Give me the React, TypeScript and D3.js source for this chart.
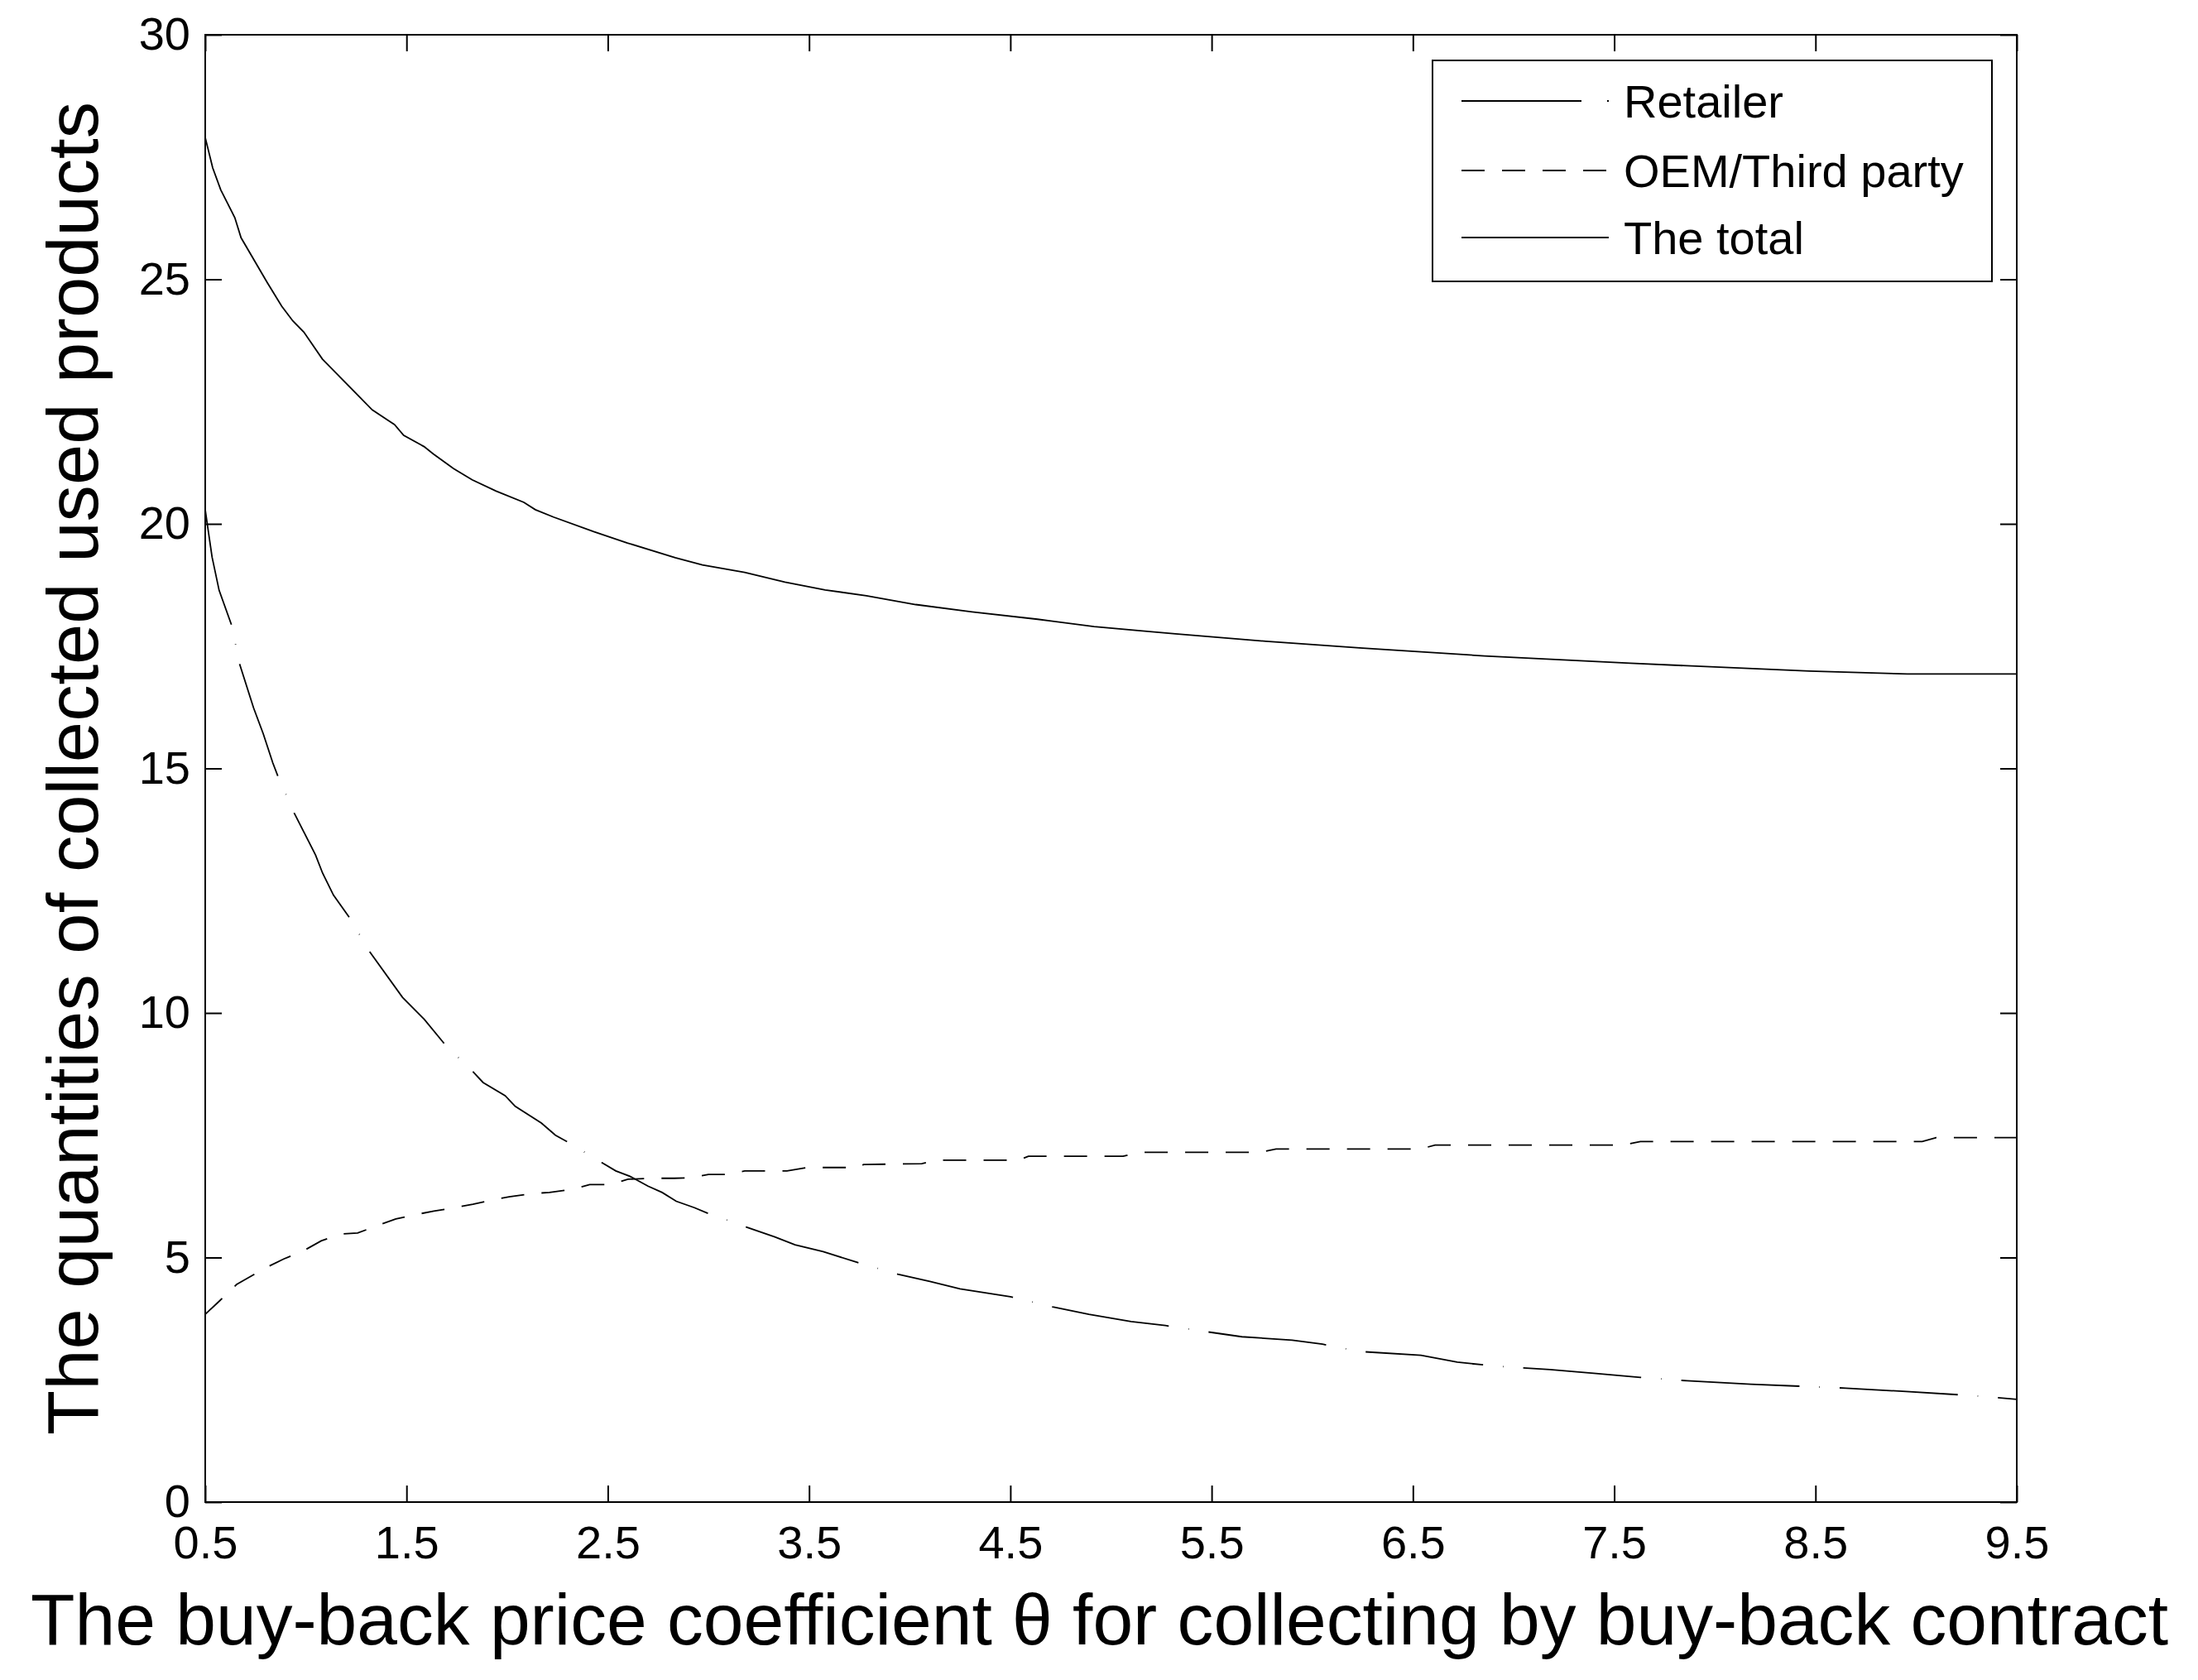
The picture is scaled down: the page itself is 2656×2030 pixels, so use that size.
import React, { useRef, useEffect } from "react";
import * as d3 from "d3";

const xTicks = [0.5, 1.5, 2.5, 3.5, 4.5, 5.5, 6.5, 7.5, 8.5, 9.5];
const yTicks = [0, 5, 10, 15, 20, 25, 30];

const totalTheta = [0.5, 0.537, 0.577, 0.647, 0.678, 0.807, 0.88, 0.935, 0.99, 1.082, 1.33, 1.44, 1.486, 1.587, 1.633, 1.734, 1.826, 1.945, 2.083, 2.14, 2.23, 2.43, 2.597, 2.835, 2.97, 3.18, 3.38, 3.58, 3.785, 4.03, 4.31, 4.635, 4.916, 5.32, 5.77, 6.25, 6.855, 7.58, 8.47, 8.957, 9.5];
const totalQty = [27.9, 27.28, 26.83, 26.26, 25.85, 24.94, 24.45, 24.15, 23.92, 23.37, 22.33, 22.03, 21.81, 21.58, 21.43, 21.13, 20.9, 20.67, 20.44, 20.29, 20.14, 19.84, 19.61, 19.31, 19.16, 19.01, 18.81, 18.65, 18.53, 18.35, 18.2, 18.05, 17.9, 17.75, 17.6, 17.46, 17.3, 17.15, 16.99, 16.93, 16.93];

const retailerTheta = [0.5, 0.516, 0.534, 0.569, 0.63, 0.671, 0.74, 0.788, 0.836, 0.861, 0.943, 1.048, 1.083, 1.137, 1.215, 1.317, 1.48, 1.588, 1.69, 1.83, 1.88, 1.99, 2.04, 2.17, 2.24, 2.31, 2.47, 2.54, 2.61, 2.7, 2.77, 2.84, 2.93, 3.0, 3.19, 3.33, 3.43, 3.57, 3.74, 3.94, 4.1, 4.25, 4.5, 4.71, 4.89, 5.1, 5.27, 5.48, 5.65, 5.9, 6.05, 6.23, 6.54, 6.72, 6.91, 7.18, 7.41, 7.63, 7.86, 8.18, 8.65, 8.95, 9.27, 9.5];
const retailerQty = [20.29, 19.83, 19.32, 18.64, 17.94, 17.13, 16.24, 15.71, 15.11, 14.84, 14.08, 13.23, 12.86, 12.41, 11.96, 11.25, 10.32, 9.87, 9.36, 8.8, 8.58, 8.31, 8.09, 7.75, 7.5, 7.34, 6.94, 6.77, 6.66, 6.46, 6.33, 6.15, 6.02, 5.9, 5.62, 5.42, 5.26, 5.12, 4.9, 4.66, 4.51, 4.36, 4.2, 3.99, 3.84, 3.69, 3.61, 3.48, 3.38, 3.31, 3.23, 3.08, 3.0, 2.86, 2.78, 2.71, 2.63, 2.55, 2.48, 2.41, 2.33, 2.26, 2.18, 2.1];

const oemTheta = [0.5, 0.573, 0.656, 0.69, 0.81, 0.89, 0.985, 1.076, 1.175, 1.257, 1.36, 1.447, 1.549, 1.636, 1.74, 1.83, 1.93, 2.01, 2.13, 2.21, 2.32, 2.41, 2.51, 2.6, 2.71, 2.83, 2.92, 3.0, 3.09, 3.18, 3.39, 3.49, 3.75, 3.77, 4.06, 4.14, 4.54, 4.59, 5.06, 5.14, 5.74, 5.82, 6.54, 6.61, 7.54, 7.63, 9.03, 9.1, 9.5];
const oemQty = [3.84, 4.12, 4.45, 4.53, 4.81, 4.97, 5.13, 5.34, 5.48, 5.5, 5.66, 5.79, 5.88, 5.95, 6.02, 6.09, 6.18, 6.24, 6.31, 6.33, 6.39, 6.49, 6.49, 6.6, 6.62, 6.62, 6.63, 6.7, 6.7, 6.77, 6.77, 6.84, 6.84, 6.9, 6.92, 6.99, 6.99, 7.07, 7.07, 7.15, 7.15, 7.22, 7.22, 7.3, 7.3, 7.37, 7.37, 7.45, 7.45];

const seriesNames = ["Retailer", "OEM/Third party", "The total"];

export default function App() {
  const svgRef = useRef(null);

  useEffect(() => {
    const W = 2656,
      H = 2030;
    const margin = { top: 42, right: 219, bottom: 215, left: 248 },
      width = W - margin.left - margin.right,
      height = H - margin.top - margin.bottom;
    const font = "'Liberation Sans', Arial, Helvetica, sans-serif";

    const root = d3.select(svgRef.current);
    root.selectAll("*").remove();
    root.append("rect").attr("width", W).attr("height", H).attr("fill", "white");

    const svg = root
      .append("g")
      .attr("transform", `translate(${margin.left},${margin.top})`);

    const x = d3.scaleLinear().domain([0.5, 9.5]).range([0, width]);
    const y = d3.scaleLinear().domain([0, 30]).range([height, 0]);

    const styleAxis = (g, labels) => {
      g.select(".domain").remove();
      g.selectAll(".tick line").attr("stroke", "black").attr("stroke-width", 2);
      g.selectAll(".tick text")
        .attr("fill", "black")
        .style("font-family", font)
        .style("font-size", "56px");
      if (!labels) g.selectAll(".tick text").remove();
    };

    svg
      .append("g")
      .attr("transform", `translate(0,${height})`)
      .call(d3.axisBottom(x).tickValues(xTicks).tickSize(-20).tickPadding(28).tickFormat(d3.format(".1f")))
      .call((g) => styleAxis(g, true));
    svg
      .append("g")
      .call(d3.axisTop(x).tickValues(xTicks).tickSize(-20))
      .call((g) => styleAxis(g, false));
    svg
      .append("g")
      .call(d3.axisLeft(y).tickValues(yTicks).tickSize(-20).tickPadding(18).tickFormat(d3.format("d")))
      .call((g) => styleAxis(g, true));
    svg
      .append("g")
      .attr("transform", `translate(${width},0)`)
      .call(d3.axisRight(y).tickValues(yTicks).tickSize(-20))
      .call((g) => styleAxis(g, false));

    svg
      .append("rect")
      .attr("width", width)
      .attr("height", height)
      .attr("fill", "none")
      .attr("stroke", "black")
      .attr("stroke-width", 2);

    const line = d3
      .line()
      .x((d) => x(d[0]))
      .y((d) => y(d[1]));

    // dot of the dash-dot pattern is barely visible in the curve itself
    const series = [
      { theta: retailerTheta, qty: retailerQty, dash: "143,24,0.6,24", legendDash: "145,31,2,40" },
      { theta: oemTheta, qty: oemQty, dash: "28,21", legendDash: "28,21" },
      { theta: totalTheta, qty: totalQty, dash: null, legendDash: null },
    ];

    series.forEach((s) => {
      svg
        .append("path")
        .datum(d3.zip(s.theta, s.qty))
        .attr("fill", "none")
        .attr("stroke", "black")
        .attr("stroke-width", 1.8)
        .attr("stroke-dasharray", s.dash)
        .attr("d", line);
    });

    // legend
    const leg = root.append("g");
    leg
      .append("rect")
      .attr("x", 1731)
      .attr("y", 73)
      .attr("width", 676)
      .attr("height", 267)
      .attr("fill", "white")
      .attr("stroke", "black")
      .attr("stroke-width", 2);
    const rowY = [122, 206, 287];
    series.forEach((s, i) => {
      leg
        .append("line")
        .attr("x1", 1766)
        .attr("x2", 1944)
        .attr("y1", rowY[i])
        .attr("y2", rowY[i])
        .attr("stroke", "black")
        .attr("stroke-width", 2)
        .attr("stroke-dasharray", s.legendDash);
      leg
        .append("text")
        .attr("x", 1962)
        .attr("y", rowY[i])
        .attr("dy", "0.36em")
        .style("font-family", font)
        .style("font-size", "56px")
        .text(seriesNames[i]);
    });

    // axis titles
    root
      .append("text")
      .attr("x", 37)
      .attr("y", 1987)
      .attr("textLength", 2583)
      .attr("lengthAdjust", "spacingAndGlyphs")
      .style("font-family", font)
      .style("font-size", "88px")
      .text("The buy-back price coefficient \u03b8 for collecting by buy-back contract");

    root
      .append("text")
      .attr("transform", "translate(118,1734) rotate(-90)")
      .attr("textLength", 1611)
      .attr("lengthAdjust", "spacingAndGlyphs")
      .style("font-family", font)
      .style("font-size", "88px")
      .text("The quantities of collected used products");
  }, []);

  return (
    <svg
      ref={svgRef}
      width="2656"
      height="2030"
      style={{ position: "absolute", left: 0, top: 0, display: "block" }}
    ></svg>
  );
}
